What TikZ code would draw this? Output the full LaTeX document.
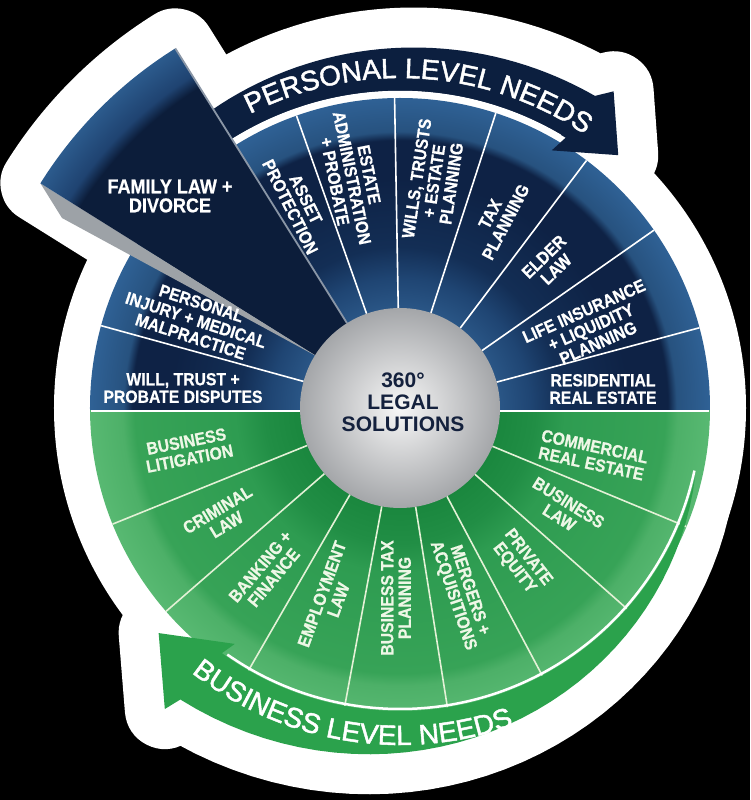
\documentclass[tikz,border=0pt]{standalone}
\usepackage{fontspec}
\setmainfont{Liberation Sans}
\newfontfamily\lblfam{Liberation Sans}[FakeStretch=0.9, FakeBold=0.7]
\newfontfamily\bandfam{Liberation Sans}[FakeBold=1.6]
\usetikzlibrary{decorations.text}
\definecolor{bA}{HTML}{2A5686}
\definecolor{bB}{HTML}{1F4573}
\definecolor{bC}{HTML}{132E55}
\definecolor{bD}{HTML}{0E2245}
\definecolor{bE}{HTML}{27527F}
\definecolor{bF}{HTML}{2F6195}
\definecolor{gA}{HTML}{1A873E}
\definecolor{gB}{HTML}{218E45}
\definecolor{gC}{HTML}{2E9C51}
\definecolor{gD}{HTML}{37A357}
\definecolor{gE}{HTML}{4DB068}
\definecolor{gF}{HTML}{58B972}
\definecolor{wD}{HTML}{0C1D3A}
\definecolor{wE}{HTML}{1F4371}
\definecolor{wF}{HTML}{2C5B8D}
\definecolor{navyband}{HTML}{0C1F3F}
\definecolor{greenband}{HTML}{2BA24C}
\definecolor{gtext}{HTML}{EEF7E6}
\definecolor{ctextc}{HTML}{14213D}
\definecolor{bevelc}{HTML}{9DA2A7}
\definecolor{gline}{HTML}{E3F1D6}
\definecolor{edgegray}{HTML}{8A96A6}
\definecolor{cIn}{HTML}{F7F7F7}
\definecolor{cOut}{HTML}{A4A6A9}
\pgfdeclareradialshading{blueshade}{\pgfpoint{0bp}{0bp}}{color(0bp)=(bA); color(8bp)=(bA); color(10.5bp)=(bB); color(13bp)=(bC); color(18.5bp)=(bD); color(21.6bp)=(bD); color(22.3bp)=(bE); color(25bp)=(bF); color(50bp)=(bF)}
\pgfdeclareradialshading{greenshade}{\pgfpoint{0bp}{0bp}}{color(0bp)=(gA); color(8bp)=(gA); color(10.9bp)=(gB); color(13.3bp)=(gC); color(21.4bp)=(gD); color(22.4bp)=(gE); color(25bp)=(gF); color(50bp)=(gF)}
\pgfdeclareradialshading{wedgeshade}{\pgfpoint{0bp}{0bp}}{color(0bp)=(wD); color(22.3bp)=(wD); color(23.1bp)=(wE); color(25bp)=(wF); color(50bp)=(wF)}
\newcommand{\bandfont}{\bandfam\fontsize{28}{28}\selectfont}
\tikzset{
  lbl/.style={text=white, font=\lblfam\bfseries\fontsize{17.5}{17.5}\selectfont, align=center, inner sep=0pt},
  glbl/.style={lbl, text=gtext},
  ctext/.style={text=ctextc, font=\fontsize{21}{22}\selectfont\bfseries, align=center, inner sep=0pt},
  sepline/.style={white, line width=1.6pt},
  gsepline/.style={gline, line width=1.6pt},
  halo/.style={white, line width=80pt, line join=round},
  wedgepath/.style={insert path={(0,0) -- (122:424) arc[start angle=122, end angle=148, radius=424] -- cycle}},
  topband/.style={insert path={(124:317) -- plot[domain=124:58, samples=40] (\x:{352+16*(124-\x)/66}) -- (56:382) -- (49.2:334) -- (59.5:299) -- (58.5:317) arc[start angle=58.5, end angle=124, radius=317] -- cycle}},
  botband/.style={insert path={(347:303) -- plot[domain=347:233, samples=40] (\x:{303+62*(347-\x)/114}) -- (232:382) -- (223:330) -- (235:288) -- (234:303) arc[start angle=234, end angle=347, radius=303] -- cycle}}
}
\begin{document}
\begin{tikzpicture}[x=1pt,y=1pt]
\useasboundingbox (-400,-392) rectangle (350,408);
\fill[black] (-400,-392) rectangle (350,408);
% white sticker outline
\fill[white] (0,0) circle (346);
\filldraw[halo] [wedgepath];
\filldraw[halo] [topband];
\filldraw[halo] [botband];
% wheel halves
\begin{scope}
  \clip (-320,-3) rectangle (320,320);
  \shade[shading=blueshade] (0,0) circle (310);
\end{scope}
\begin{scope}
  \clip (-320,-3) rectangle (320,-320);
  \shade[shading=greenshade] (0,0) circle (310);
\end{scope}
% separators
\foreach \a in {15,35,53,72,91,109.5,164.6} \draw[sepline] (\a:100) -- (\a:310);
\foreach \a in {202,221,240,259.5,279,298,318.5,337.5} \draw[gsepline] (\a:100) -- (\a:310);
\draw[sepline] (-309,-3) -- (-99,-3);
\draw[sepline] (99,-3) -- (309,-3);
% bands
\fill[navyband] [topband];
\fill[greenband] [botband];
\draw[white, line width=2.5pt] (122:316) arc[start angle=122, end angle=59.5, radius=316];
\draw[white, line width=2.5pt] (235:301) arc[start angle=235, end angle=348, radius=301];
% family law wedge
\fill[bevelc] (148:424) -- (-338,190) -- (-84,52) -- (148:100) -- cycle;
\begin{scope}
  \clip [wedgepath];
  \shade[shading=wedgeshade] (0,0) circle (424);
\end{scope}
\draw[edgegray, line width=1.8pt] (122:100) -- (122:424);
% centre
\shade[inner color=cIn, outer color=cOut] (0,0) circle (100);
\node[ctext] (centre) at (3,6) {360°\\LEGAL\\SOLUTIONS};
% personal labels
\node[lbl] (resid) at (203,19) {RESIDENTIAL\\REAL ESTATE};
\node[lbl, rotate=24] (life) at (191,81) {LIFE INSURANCE\\+ LIQUIDITY\\PLANNING};
\node[lbl, rotate=44] (elder) at (150,145) {ELDER\\LAW};
\node[lbl, rotate=62.5] (tax) at (98,190) {TAX\\PLANNING};
\node[lbl, rotate=81.5] (wills) at (34,227) {WILLS, TRUSTS\\+ ESTATE\\PLANNING};
\node[lbl, rotate=-78.5] (estate) at (-48,230) {ESTATE\\ADMINISTRATION\\+ PROBATE};
\node[lbl, rotate=-63.5] (asset) at (-102,205) {ASSET\\PROTECTION};
\node[lbl, font=\lblfam\bfseries\fontsize{20}{19}\selectfont] (family) at (-230,212) {FAMILY LAW +\\DIVORCE};
\node[lbl, rotate=-18] (injury) at (-204,88) {PERSONAL\\INJURY + MEDICAL\\MALPRACTICE};
\node[lbl] (willtrust) at (-217,20) {WILL, TRUST +\\PROBATE DISPUTES};
% business labels
\node[glbl, rotate=11] (bizlit) at (-212,-42) {BUSINESS\\LITIGATION};
\node[glbl, rotate=31] (criminal) at (-178,-109) {CRIMINAL\\LAW};
\node[glbl, rotate=50] (banking) at (-133,-164) {BANKING +\\FINANCE};
\node[glbl, rotate=70] (employ) at (-70,-189) {EMPLOYMENT\\LAW};
\node[glbl, rotate=90] (biztax) at (-4,-190) {BUSINESS TAX\\PLANNING};
\node[glbl, rotate=-71.5] (merge) at (61,-185) {MERGERS +\\ACQUISITIONS};
\node[glbl, rotate=-52] (equity) at (121,-155) {PRIVATE\\EQUITY};
\node[glbl, rotate=-32] (bizlaw) at (164,-102) {BUSINESS\\LAW};
\node[glbl, rotate=-12] (commercial) at (193,-47) {COMMERCIAL\\REAL ESTATE};
% band texts
\path[decorate, decoration={text along path, text color=white, text align=center, text={|\bandfont|PERSONAL LEVEL NEEDS}}] (121.5:330) arc[start angle=121.5, end angle=51.5, radius=330];
\path[decorate, decoration={text along path, text color=white, text align=center, text={|\bandfont|BUSINESS LEVEL NEEDS}}] (225.75:337) arc[start angle=225.75, end angle=295.75, radius=337];
\end{tikzpicture}
\end{document}
